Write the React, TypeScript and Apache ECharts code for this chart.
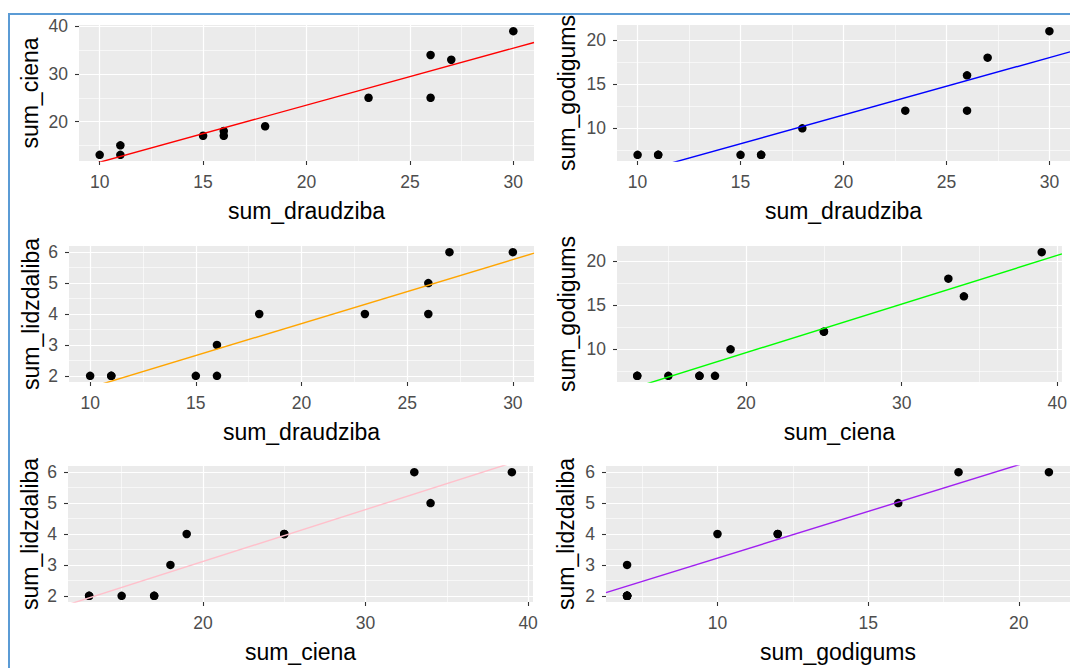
import React, { useEffect, useRef } from "react";
import * as echarts from "echarts";

// ---- data (12 observations) ----
const draudziba = [10, 11, 11, 15, 16, 16, 18, 23, 26, 26, 27, 30];
const ciena = [13, 15, 13, 17, 18, 17, 19, 25, 34, 25, 33, 39];
const godigums = [7, 7, 7, 7, 7, 7, 10, 12, 16, 12, 18, 21];
const lidzdaliba = [2, 2, 2, 2, 3, 2, 4, 4, 5, 4, 6, 6];

const varNames = ["sum_draudziba", "sum_ciena", "sum_godigums", "sum_lidzdaliba"];
const varValues = [draudziba, ciena, godigums, lidzdaliba];
const varMin = [9, 11.7, 6.3, 1.8];
const varMax = [31, 40.3, 21.7, 6.2];
const varTicks = [
  [10, 15, 20, 25, 30],
  [20, 30, 40],
  [10, 15, 20],
  [2, 3, 4, 5, 6],
];
const varMinorTicks = [
  [12.5, 17.5, 22.5, 27.5],
  [15, 25, 35],
  [7.5, 12.5, 17.5],
  [2.5, 3.5, 4.5, 5.5],
];

// panels: x variable, y variable
const panelXVar = [0, 0, 0, 1, 1, 2];
const panelYVar = [1, 2, 3, 2, 3, 3];
const fitColors = ["#FF0000", "#0000FF", "#FFA500", "#00FF00", "#FFC0CB", "#A020F0"];
const fitIntercept = [-0.54, -1.49, -0.45, -1.4, -0.25, 0.2];
const fitSlope = [1.199, 0.65, 0.207, 0.551, 0.168, 0.302];

// ---- layout ----
const layout = [
  { left: 79, top: 25, width: 455, yGap: 38 },
  { left: 617, top: 25, width: 455, yGap: 39 },
  { left: 69, top: 246, width: 465, yGap: 27 },
  { left: 617, top: 246, width: 455, yGap: 39 },
  { left: 68, top: 466, width: 465, yGap: 27 },
  { left: 606, top: 466, width: 466, yGap: 29 },
];
const panelH = 136;
const FONT = "'Liberation Sans', Arial, sans-serif";

export default function App() {
  const ref = useRef<HTMLDivElement>(null);
  useEffect(() => {
    const chart = echarts.init(ref.current!, null, { renderer: "svg" });
    const grid: any[] = [];
    const xAxis: any[] = [];
    const yAxis: any[] = [];
    const series: any[] = [];
    for (let p = 0; p < 6; p++) {
      const L = layout[p];
      const xv = panelXVar[p];
      const yv = panelYVar[p];
      grid.push({
        left: L.left,
        top: L.top,
        width: L.width,
        height: panelH,
        show: true,
        backgroundColor: "#EBEBEB",
        borderWidth: 0,
      });
      const mainAxisCommon = (v: number) => ({
        type: "value",
        gridIndex: p,
        min: varMin[v],
        max: varMax[v],
        name: varNames[v],
        nameLocation: "middle",
        nameTextStyle: { fontSize: 23, color: "#000000", fontFamily: FONT },
        axisLine: { show: false },
        axisTick: {
          show: true,
          length: 4,
          lineStyle: { color: "#333333", width: 1.1 },
          customValues: varTicks[v],
        },
        axisLabel: {
          show: true,
          customValues: varTicks[v],
          fontSize: 17.5,
          color: "#4D4D4D",
          fontFamily: FONT,
        },
        splitLine: { show: true, lineStyle: { color: "#FFFFFF", width: 1.2 } },
      });
      const minorAxis = (v: number, pos: string) => ({
        type: "value",
        gridIndex: p,
        min: varMin[v],
        max: varMax[v],
        position: pos,
        axisLine: { show: false },
        axisTick: { show: false, customValues: varMinorTicks[v] },
        axisLabel: { show: false, customValues: varMinorTicks[v] },
        splitLine: { show: true, lineStyle: { color: "#FFFFFF", width: 0.6 } },
      });
      const mx: any = mainAxisCommon(xv);
      mx.position = "bottom";
      mx.nameGap = 38;
      mx.axisLabel.margin = 12;
      xAxis.push(mx);
      xAxis.push(minorAxis(xv, "top"));
      const my: any = mainAxisCommon(yv);
      my.position = "left";
      my.nameGap = L.yGap;
      my.nameRotate = 90;
      my.axisLabel.margin = 11;
      yAxis.push(my);
      yAxis.push(minorAxis(yv, "right"));

      const xs = varValues[xv];
      const ys = varValues[yv];
      series.push({
        type: "scatter",
        xAxisIndex: 2 * p,
        yAxisIndex: 2 * p,
        data: xs.map((x, i) => [x, ys[i]]),
        symbolSize: 8.5,
        itemStyle: { color: "#000000", opacity: 1 },
        z: 2,
        silent: true,
      });
      const x0 = varMin[xv];
      const x1 = varMax[xv];
      series.push({
        type: "line",
        xAxisIndex: 2 * p,
        yAxisIndex: 2 * p,
        data: [
          [x0, fitIntercept[p] + fitSlope[p] * x0],
          [x1, fitIntercept[p] + fitSlope[p] * x1],
        ],
        symbol: "none",
        clip: true,
        lineStyle: { color: fitColors[p], width: 1.4 },
        z: 3,
        silent: true,
      });
    }
    chart.setOption({
      animation: false,
      backgroundColor: "#FFFFFF",
      textStyle: { fontFamily: FONT },
      grid,
      xAxis,
      yAxis,
      series,
      graphic: [
        { type: "rect", shape: { x: 0, y: 0, width: 1070, height: 13 }, style: { fill: "#FFFFFF" }, z: 100 },
        { type: "rect", shape: { x: 0, y: 0, width: 8, height: 668 }, style: { fill: "#FFFFFF" }, z: 100 },
        { type: "line", shape: { x1: 8, y1: 14, x2: 1070, y2: 14 }, style: { stroke: "#5B9BD5", lineWidth: 2 }, z: 101 },
        { type: "line", shape: { x1: 9, y1: 14, x2: 9, y2: 668 }, style: { stroke: "#5B9BD5", lineWidth: 2 }, z: 101 },
      ],
    });
    return () => chart.dispose();
  }, []);
  return (
    <div
      ref={ref}
      style={{ position: "fixed", left: 0, top: 0, width: 1070, height: 668, overflow: "hidden", background: "#fff" }}
    />
  );
}
